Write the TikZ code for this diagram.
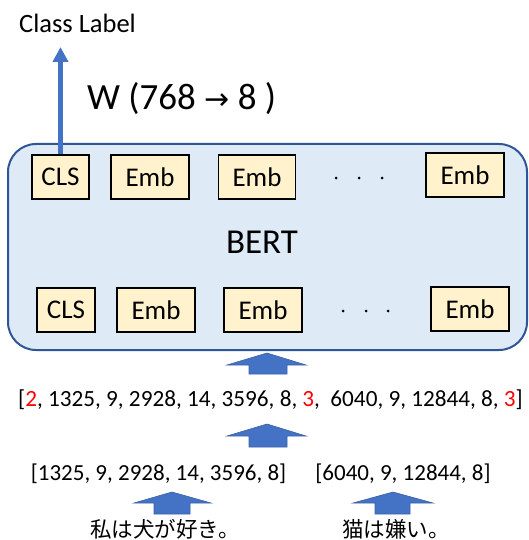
\documentclass[tikz,border=0pt]{standalone}
\usepackage{fontspec}
\setmainfont{Carlito}
\newfontfamily\jpfont{Noto Sans CJK JP}
\newfontfamily\arrowfont{DejaVu Sans}
\usetikzlibrary{arrows.meta}
\newcommand{\myfs}[1]{\fontsize{#1}{#1}\selectfont}
\definecolor{bertfill}{HTML}{DEEBF7}
\definecolor{bertline}{HTML}{2F5597}
\definecolor{embfill}{HTML}{FFF2CC}
\definecolor{arrowblue}{HTML}{4472C4}
\definecolor{tokred}{HTML}{FF0000}
\tikzset{
  bertbox/.style={draw=bertline, fill=bertfill, line width=2pt, rounded corners=28pt},
  embbox/.style={draw=black, fill=embfill, line width=1.8pt, inner sep=0pt, minimum height=44pt, font=\myfs{27}},
  plaintext/.style={inner sep=0pt, anchor=base},
  blockarrow/.style={fill=arrowblue, draw=arrowblue!85!black, line width=0.6pt},
  clsarrow/.style={draw=arrowblue, line width=4.5pt, -{Triangle[width=15pt,length=15pt]}},
  dot/.style={fill=black}
}
\begin{document}
\begin{tikzpicture}[x=1pt,y=-1pt]
\useasboundingbox (0,0) rectangle (528,540);
% BERT container
\draw[bertbox] (8,144) rectangle (527,350);
\node[plaintext, font=\myfs{35}] (bert) at (262,253) {BERT};
% top row
\node[embbox, minimum width=57pt] (cls1) at (60.5,177) {CLS};
\node[embbox, minimum width=78pt] (emb1a) at (150,177) {Emb};
\node[embbox, minimum width=77pt] (emb1b) at (257,177) {Emb};
\node[embbox, minimum width=78pt] (emb1c) at (465,175) {Emb};
\fill[dot] (336,178) circle (1.5pt) (359,178) circle (1.5pt) (382,178) circle (1.5pt);
% bottom row
\node[embbox, minimum width=58pt] (cls2) at (66,310) {CLS};
\node[embbox, minimum width=78pt] (emb2a) at (156,310) {Emb};
\node[embbox, minimum width=78pt] (emb2b) at (263,310) {Emb};
\node[embbox, minimum width=78pt] (emb2c) at (470,309) {Emb};
\fill[dot] (343,311) circle (1.5pt) (366,311) circle (1.5pt) (388,311) circle (1.5pt);
% classifier
\node[plaintext, font=\myfs{26.5}] (classlabel) at (77.5,33) {Class Label};
\coordinate (clstip) at (61,47);
\draw[clsarrow] (cls1.north) -- (cls1.north |- clstip);
\node[plaintext, anchor=base west, font=\myfs{37}] (wlabel) at (87,110) {W (768 {\arrowfont\myfs{30}→} 8 )};
% block arrows
\path[blockarrow] (267,353) -- (306,365) -- (287,365) -- (287,374) -- (249,374) -- (249,365) -- (227,365) -- cycle;
\path[blockarrow] (267,424) -- (306,436) -- (287,436) -- (287,447) -- (249,447) -- (249,436) -- (227,436) -- cycle;
\path[blockarrow] (172,492) -- (211,503) -- (190,503) -- (190,514) -- (154,514) -- (154,503) -- (134,503) -- cycle;
\path[blockarrow] (393,492) -- (433,503) -- (410,503) -- (410,514) -- (375,514) -- (375,503) -- (353,503) -- cycle;
% token lines
\node[plaintext, font=\myfs{23.2}] (tokall) at (270.5,406) {[\textcolor{tokred}{2}, 1325, 9, 2928, 14, 3596, 8, \textcolor{tokred}{3},\ \ 6040, 9, 12844, 8, \textcolor{tokred}{3}]};
\node[plaintext, font=\myfs{23}] (tokone) at (158.5,480) {[1325, 9, 2928, 14, 3596, 8]};
\node[plaintext, font=\myfs{23}] (toktwo) at (403,480) {[6040, 9, 12844, 8]};
% sentences
\node[plaintext, font=\jpfont\myfs{21.5}] (sentone) at (165,537) {私は犬が好き。};
\node[plaintext, font=\jpfont\myfs{21.5}] (senttwo) at (396,537) {猫は嫌い。};
\end{tikzpicture}
\end{document}
